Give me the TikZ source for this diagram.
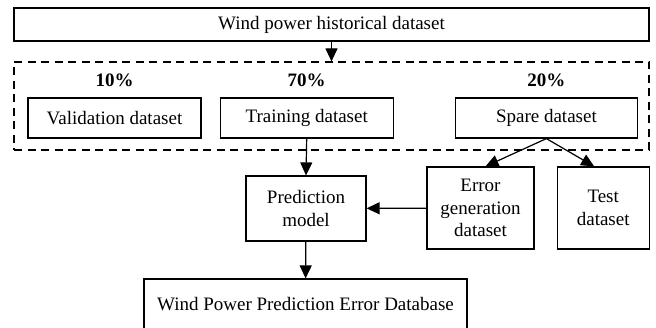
\documentclass[tikz,border=0pt]{standalone}
\usepackage{fontspec}
\setmainfont{Liberation Serif}
\usetikzlibrary{arrows.meta,positioning,calc}

\begin{document}
\begin{tikzpicture}[
  x=1pt,y=1pt,
  box/.style={draw,line width=1.2pt,minimum height=40pt,inner sep=0pt,align=center,
              font=\fontsize{19}{22.5}\selectfont},
  pct/.style={font=\fontsize{19}{22.5}\selectfont\bfseries,inner sep=0pt},
  group/.style={draw,line width=1.2pt,dash pattern=on 8pt off 5.5pt,inner sep=0pt},
  flow/.style={-{Triangle[length=13pt,width=12pt]},line width=1.2pt},
]
\useasboundingbox (0,0) rectangle (656,327);

\node[box,minimum width=635pt,minimum height=33pt] (hist) at (331.5,302.5)
  {Wind power historical dataset};
\node[group,minimum width=635pt,minimum height=88pt] (split) at (331.5,221) {};

\node[box,minimum width=173pt] (val) at (114.5,209) {Validation dataset};
\node[box,minimum width=173pt,right=18pt of val]   (train) {Training dataset};
\node[box,minimum width=182pt,right=61pt of train] (spare) {Spare dataset};

\node[pct,above=10pt of val]   (p10) {10\%};
\node[pct,above=10pt of train] (p70) {70\%};
\node[pct,above=10pt of spare] (p20) {20\%};

\node[box,minimum width=120pt,minimum height=65pt] (pred) at (306,118.5)
  {Prediction\\model};
\node[box,minimum width=107pt,minimum height=82pt] (err) at (480.5,119)
  {Error\\generation\\dataset};
\node[box,minimum width=92pt,minimum height=82pt,right=22pt of err] (test)
  {Test\\dataset};
\node[box,minimum width=323pt,minimum height=50pt] (db) at (305.5,23)
  {Wind Power Prediction Error Database};

\draw[flow] (hist) -- (split);
\draw[flow] (train.south) -- (pred.north);
\draw[flow] (spare.south) -- ([xshift=5pt]err.north);
\draw[flow] (spare.south) -- ([xshift=-9pt]test.north);
\draw[flow] (err) -- (pred);
\draw[flow] (pred) -- (db);
\end{tikzpicture}
\end{document}
